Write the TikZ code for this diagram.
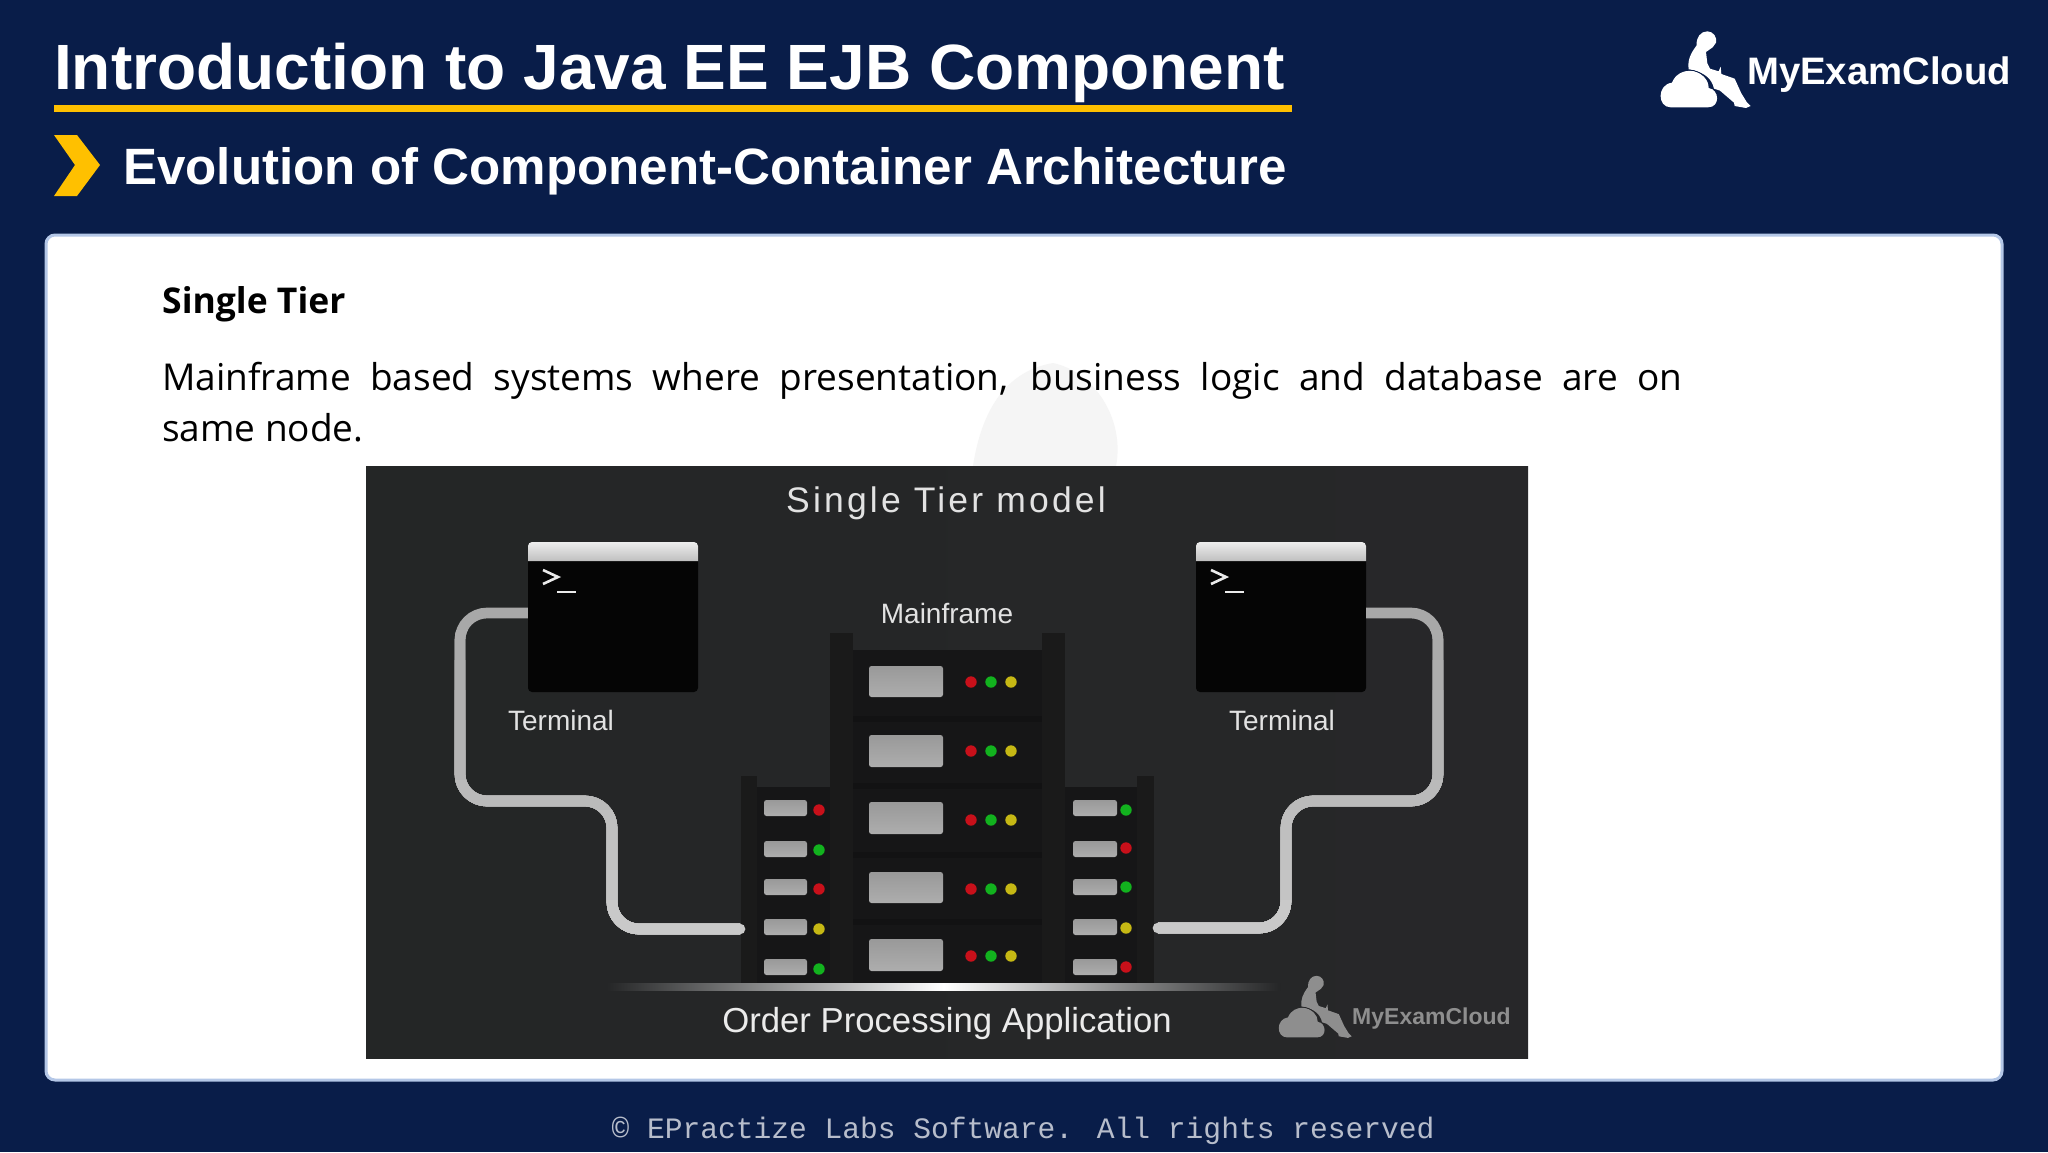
\documentclass[tikz,border=0pt]{standalone}
\usepackage{fontspec}
\setmainfont{Liberation Sans}
\newfontfamily\bodyfont{Open Sans}
\newfontfamily\spacedfont[LetterSpace=9]{Liberation Sans}
\newfontfamily\footfont{Liberation Mono}
\definecolor{navy}{HTML}{091D49}
\definecolor{amber}{HTML}{FFC000}
\definecolor{cardedge}{HTML}{B4C7E7}
\definecolor{panelleft}{HTML}{242626}
\definecolor{panelright}{HTML}{272729}
\definecolor{panelmid}{HTML}{252627}
\definecolor{rackpost}{HTML}{1A1A1A}
\definecolor{rackbody}{HTML}{161617}
\definecolor{rackgap}{HTML}{121213}
\definecolor{ledr}{HTML}{C8101A}
\definecolor{ledg}{HTML}{12B21E}
\definecolor{ledy}{HTML}{C6B814}
\definecolor{softtext}{HTML}{E2E2E2}
\definecolor{footgrey}{HTML}{B7BDCB}
\definecolor{markgrey}{HTML}{8E8E8E}
\tikzset{
  titletext/.style={text=white,inner sep=0pt,anchor=base west,font=\bfseries\fontsize{64}{64}\selectfont},
  subtext/.style={text=white,inner sep=0pt,anchor=base west,font=\bfseries\fontsize{51.1}{51.1}\selectfont},
  bodyline/.style={text=black,inner sep=0pt,anchor=base west,font=\bodyfont\fontsize{37}{37}\selectfont},
  labeltext/.style={text=softtext,inner sep=0pt,anchor=base,font=\fontsize{28}{28}\selectfont},
  termbox/.style={fill=black!98,rounded corners=4pt,minimum width=170pt,minimum height=150pt,inner sep=0pt},
  slabbig/.style={rounded corners=2.5pt,top color=black!40,bottom color=black!32},
  cableline/.style={line width=10.7pt,rounded corners=27pt,line cap=butt},
  promptline/.style={draw=white!92!black,line width=2.6pt},
}
\newcommand{\logomark}[5]{%
  \begin{scope}[shift={(#1,#2)},x=#3pt,y=-#3pt]
    \fill[#4] (322,94) .. controls (340,94) and (352,112) .. (348,128)
      -- (338,142) -- (318,156) -- (322,190) -- (330,206) -- (356,214) -- (362,200) -- (364,222)
      -- (404,236) -- (424,280) -- (440,306) -- (452,318) -- (438,324) -- (404,318) -- (402,308)
      -- (360,272) -- (342,266)
      .. controls (336,238) and (316,216) .. (266,208)
      .. controls (262,180) and (272,160) .. (290,136)
      .. controls (288,112) and (302,94) .. (322,94) -- cycle;
    \fill[#4] (212,322) .. controls (172,322) and (170,254) .. (216,248)
      .. controls (226,222) and (250,212) .. (272,212)
      .. controls (306,214) and (326,240) .. (326,264)
      .. controls (358,268) and (362,322) .. (324,322) -- cycle;
    \draw[#5,line width=0.8pt] (268,210) .. controls (306,212) and (328,240) .. (334,266);
  \end{scope}}
\newcommand{\ledspot}[3]{\fill[#3] (#1,#2) circle[radius=5.7];}
\begin{document}
\begin{tikzpicture}[x=1pt,y=-1pt]
\useasboundingbox (0,0) rectangle (2048,1152);
\fill[navy] (0,0) rectangle (2048,1152);
% header
\node[titletext] (title) at (54,89) {Introduction to Java EE EJB Component};
\fill[amber] (54,105) rectangle (1292,112);
\fill[amber] (54,135) -- (77,135) -- (100,165) -- (77,196) -- (54,196) -- (75,165) -- cycle;
\node[subtext] (sub) at (123,184) {Evolution of Component-Container Architecture};
\logomark{1600}{0}{0.3333}{white}{navy}
\node[text=white,inner sep=0pt,anchor=base west,font=\bfseries\fontsize{38.3}{38.3}\selectfont] (brand) at (1747,84) {MyExamCloud};
% card
\draw[draw=cardedge,fill=white,line width=3pt,rounded corners=9pt] (46,235) rectangle (2002,1080);
\fill[black!4] (973,466) .. controls (980,420) and (1000,372) .. (1053,363)
  .. controls (1095,372) and (1125,420) .. (1116,466) -- cycle;
\node[bodyline,font=\bodyfont\bfseries\fontsize{35.5}{35.5}\selectfont] (head) at (162,313) {Single Tier};
\node[bodyline] (line1) at (162,390) {\makebox[1520pt][s]{Mainframe based systems where presentation, business logic and database are on}};
\node[bodyline] (line2) at (162,441) {same node.};
% image panel
\shade[left color=panelleft,right color=panelright] (366,466) rectangle (1528,1058);
\node[text=softtext,inner sep=0pt,anchor=base,font=\spacedfont\fontsize{35.5}{35.5}\selectfont] (model) at (946,512) {Single Tier model};
% racks
\fill[rackpost] (830,633) rectangle (853,983);
\fill[rackpost] (1042,633) rectangle (1065,983);
\fill[rackbody] (853,650) rectangle (1042,983);
\foreach \yy in {716,783,852,919}{\fill[rackgap] (853,\yy) rectangle (1042,\yy+6);}
\fill[rackbody] (757,787) rectangle (830,983);
\fill[rackpost] (741,776) rectangle (757,983);
\fill[rackbody] (1065,787) rectangle (1137,983);
\fill[rackpost] (1137,776) rectangle (1154,983);
\foreach \yy/\hh in {666/697,735/767,802/834,872/903,939/971}{
  \shade[slabbig] (869,\yy) rectangle (943,\hh);}
\foreach \yy in {682,751,820,889,956}{
  \ledspot{971}{\yy}{ledr}\ledspot{991}{\yy}{ledg}\ledspot{1011}{\yy}{ledy}}
\foreach \yy/\hh in {800/816,841/857,879/895,919/935,959/975}{
  \shade[slabbig] (764,\yy) rectangle (807,\hh);
  \shade[slabbig] (1073,\yy) rectangle (1117,\hh);}
\foreach \yy/\cc in {810/ledr,850/ledg,889/ledr,929/ledy,969/ledg}{\ledspot{819}{\yy}{\cc}}
\foreach \yy/\cc in {810/ledg,848/ledr,887/ledg,928/ledy,967/ledr}{\ledspot{1126}{\yy}{\cc}}
\shade[left color=panelmid,right color=panelmid,middle color=white] (607,983) rectangle (1280,990);
\node[labeltext] (main) at (947,623) {Mainframe};
% terminals
\node[termbox] (tl) at (613,617) {};
\node[termbox] (tr) at (1281,617) {};
\foreach \xx in {528,1196}{
  \shade[top color=black!7,bottom color=black!25] [rounded corners=4pt] (\xx,561) -- (\xx,542) -- (\xx+170,542) [sharp corners] -- (\xx+170,561) -- cycle;
  \draw[promptline] (\xx+15,570) -- (\xx+30,577) -- (\xx+15,584);
  \draw[promptline] (\xx+29,592) -- (\xx+48,592);
}
\node[labeltext] (tll) at (561,730) {Terminal};
\node[labeltext] (trl) at (1282,730) {Terminal};
% cables, brightening towards the racks
\coordinate (lend) at (740,929);
\coordinate (rend) at (1158,928);
\foreach \bandy/\pct in {600/34,630/33,660/32,690/31,720/30,750/29,780/27,810/25,840/24,870/23,900/21}{
  \begin{scope}
    \clip (300,\bandy) rectangle (1500,960);
    \draw[cableline,draw=black!\pct] (tl.west|-0,613) -- (460,613) -- (460,801) -- (612,801) -- (612,929) -- (lend);
    \draw[cableline,draw=black!\pct] (tr.east|-0,613) -- (1438,613) -- (1438,801) -- (1286,801) -- (1286,928) -- (rend);
  \end{scope}
}
\fill[black!21] (lend) circle[radius=5.35];
\fill[black!21] (rend) circle[radius=5.35];
% caption and mark
\node[text=white!92!black,inner sep=0pt,anchor=base,font=\fontsize{34.7}{34.7}\selectfont] (cap) at (947,1032) {Order Processing Application};
\logomark{1229.7}{950.4}{0.27}{markgrey}{panelright}
\node[text=markgrey,inner sep=0pt,anchor=base west,font=\bfseries\fontsize{23}{23}\selectfont] (wm) at (1352,1024) {MyExamCloud};
% footer
\node[text=footgrey,inner sep=0pt,anchor=base,font=\footfont\fontsize{29.6}{29.6}\selectfont] (foot) at (1023,1138) {© EPractize Labs Software. All rights reserved};
\end{tikzpicture}
\end{document}
